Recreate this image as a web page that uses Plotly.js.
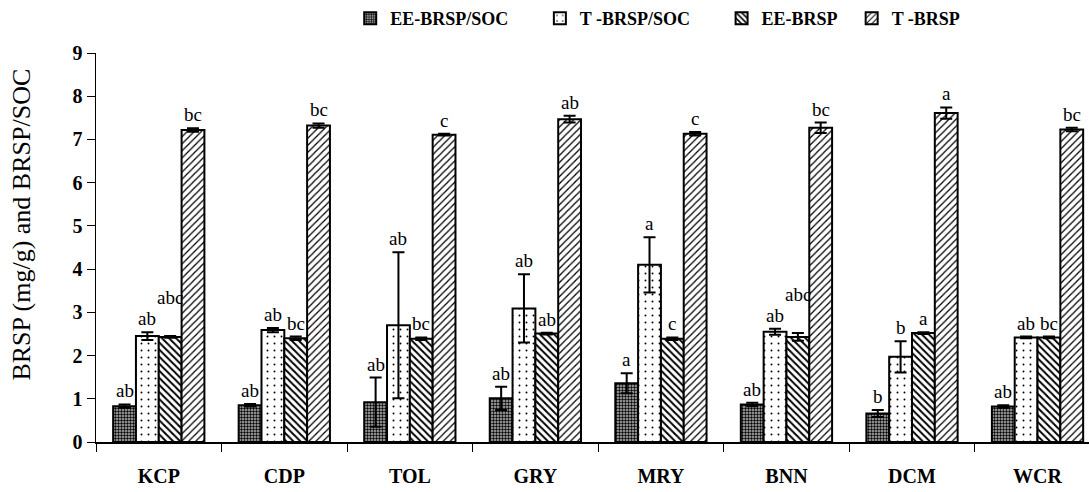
<!DOCTYPE html>
<html>
<head>
<meta charset="utf-8">
<script src="https://cdn.plot.ly/plotly-3.0.1.min.js"></script>
<style>html,body{margin:0;padding:0;background:#fff;}</style>
</head>
<body>
<div id="chart" style="width:1089px;height:492px;"></div>
<script>
const categories = ["KCP", "CDP", "TOL", "GRY", "MRY", "BNN", "DCM", "WCR"];
const seriesNames = ["EE-BRSP/SOC", "T -BRSP/SOC", "EE-BRSP", "T -BRSP"];

const eeRatio = [0.83, 0.85, 0.92, 1.01, 1.36, 0.87, 0.66, 0.82];
const eeRatioErr = [0.04, 0.03, 0.57, 0.27, 0.23, 0.04, 0.08, 0.03];
const tRatio = [2.45, 2.59, 2.70, 3.09, 4.10, 2.55, 1.97, 2.42];
const tRatioErr = [0.09, 0.05, 1.69, 0.79, 0.64, 0.07, 0.36, 0.02];
const eeBrsp = [2.43, 2.40, 2.39, 2.51, 2.39, 2.43, 2.52, 2.42];
const eeBrspErr = [0.02, 0.04, 0.03, 0.02, 0.03, 0.09, 0.02, 0.02];
const tBrsp = [7.22, 7.32, 7.11, 7.47, 7.13, 7.27, 7.61, 7.23];
const tBrspErr = [0.04, 0.05, 0.02, 0.08, 0.04, 0.12, 0.13, 0.04];

const eeRatioLetters = ["ab", "ab", "ab", "ab", "a", "ab", "b", "ab"];
const tRatioLetters = ["ab", "ab", "ab", "ab", "a", "ab", "b", "ab"];
const eeBrspLetters = ["abc", "bc", "bc", "ab", "c", "abc", "a", "bc"];
const tBrspLetters = ["bc", "bc", "c", "ab", "c", "bc", "a", "bc"];

const yTitle = "BRSP (mg/g) and BRSP/SOC";

const values = [eeRatio, tRatio, eeBrsp, tBrsp];
const errors = [eeRatioErr, tRatioErr, eeBrspErr, tBrspErr];
const letters = [eeRatioLetters, tRatioLetters, eeBrspLetters, tBrspLetters];

const patterns = [
  {shape: ".", fgcolor: "#000", bgcolor: "#b8b8b8", size: 3, solidity: 0.5},
  {shape: ".", fgcolor: "#000", bgcolor: "#fff", size: 7, solidity: 0.06},
  {shape: "\\", fgcolor: "#000", bgcolor: "#fff", size: 5, solidity: 0.4},
  {shape: "/", fgcolor: "#000", bgcolor: "#fff", size: 5, solidity: 0.25}
];

const serif = "'Liberation Serif', 'Times New Roman', serif";
const bargap = 0.273;
const barW = (1 - bargap) / 4;
const legendIds = ["legend", "legend2", "legend3", "legend4"];
const legendX = [0.256, 0.447, 0.630, 0.761];

const traces = seriesNames.map((name, k) => ({
  type: "bar",
  name: name,
  x: categories,
  y: values[k],
  legend: legendIds[k],
  marker: {color: "#fff", line: {color: "#000", width: 2}, pattern: patterns[k]},
  error_y: {type: "data", array: errors[k], visible: true, color: "#000", thickness: 2, width: 6}
}));

const annotations = [];
for (let k = 0; k < 4; k++) {
  for (let i = 0; i < categories.length; i++) {
    const t = letters[k][i];
    annotations.push({
      x: i + (k - 1.5) * barW,
      y: values[k][i] + errors[k][i],
      xref: "x", yref: "y",
      text: t,
      showarrow: false,
      yanchor: "bottom",
      yshift: t.length === 3 ? 26 : 1,
      font: {family: serif, size: 19, color: "#000"}
    });
  }
}
annotations.push({
  xref: "paper", yref: "paper", x: -0.0745, y: 0.559,
  text: yTitle, textangle: -90, showarrow: false,
  xanchor: "center", yanchor: "middle",
  font: {family: serif, size: 26, color: "#000"}
});

const layout = {
  width: 1089, height: 492,
  margin: {l: 96, r: 0, t: 52, b: 50},
  paper_bgcolor: "#fff", plot_bgcolor: "#fff",
  barmode: "group", bargap: bargap, bargroupgap: 0,
  showlegend: true,
  xaxis: {
    type: "category",
    range: [-0.5, 7.41],
    showline: true, linecolor: "#000", linewidth: 2,
    ticks: "outside", tickson: "boundaries", ticklen: 8, tickcolor: "#000", tickwidth: 1,
    tickfont: {family: serif, size: 20, color: "#000", weight: "bold"},
    ticklabelstandoff: 15,
    showgrid: false, zeroline: false
  },
  yaxis: {
    range: [0, 9],
    dtick: 1, tick0: 0,
    showline: true, linecolor: "#000", linewidth: 1.5,
    ticks: "outside", ticklen: 8, tickcolor: "#000", tickwidth: 1,
    tickfont: {family: serif, size: 20, color: "#000", weight: "bold"},
    showgrid: false, zeroline: false
  },
  annotations: annotations
};
legendIds.forEach((id, k) => {
  layout[id] = {
    orientation: "h", x: legendX[k], xanchor: "left", y: 1.09, yanchor: "middle",
    font: {family: serif, size: 18, color: "#000", weight: "bold"},
    itemwidth: 30, bgcolor: "rgba(0,0,0,0)"
  };
});

Plotly.newPlot("chart", traces, layout, {displayModeBar: false, staticPlot: true});
</script>
</body>
</html>
